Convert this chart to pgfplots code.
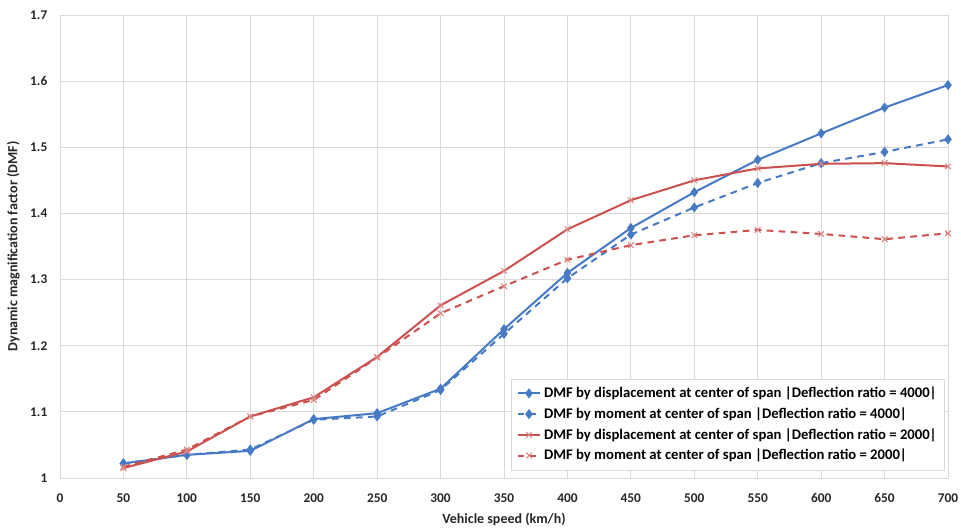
\documentclass[border=0pt]{standalone}
\usepackage{fontspec}
\setmainfont{Carlito}
\usepackage{pgfplots}
\pgfplotsset{compat=1.18}

\definecolor{exblue}{RGB}{70,122,196}
\definecolor{exred}{RGB}{204,80,78}
\definecolor{gridgray}{RGB}{217,217,217}

\begin{document}
\begin{tikzpicture}[x=1pt,y=1pt]
\begin{axis}[
    name=ax,
    scale only axis,
    width=666pt, height=347.25pt,
    xmin=0, xmax=700, ymin=1, ymax=1.7,
    xtick={0,50,...,700},
    ytick={1,1.1,1.2,1.3,1.4,1.5,1.6,1.7},
    yticklabels={1,1.1,1.2,1.3,1.4,1.5,1.6,1.7},
    grid=major,
    major grid style={gridgray, line width=0.7pt},
    axis line style={gridgray, line width=0.7pt},
    tick style={draw=none},
    /pgf/number format/assume math mode=true,
    ticklabel style={font=\bfseries\fontsize{10}{12}\selectfont, text=black!85},
    xticklabel style={yshift=-8pt},
    yticklabel style={xshift=-6pt},
    xlabel={Vehicle speed (km/h)},
    ylabel={Dynamic magnification factor (DMF)},
    label style={font=\bfseries\fontsize{10.5}{12}\selectfont, text=black!85},
    xlabel style={yshift=-1pt},
    ylabel style={yshift=1pt},
    legend style={at={(0.9966,0.017)}, anchor=south east,
        draw=gridgray, fill=white, font=\bfseries\fontsize{11}{13}\selectfont,
        row sep=2pt, inner sep=4pt, cells={anchor=west}},
    legend cell align=left,
    every axis plot/.append style={line width=1.5pt},
]
\addplot[exblue, dash pattern=on 100pt off 0pt, mark=diamond*, mark size=2.6pt, mark options={solid}] coordinates {
 (50,1.022) (100,1.035) (150,1.041) (200,1.089) (250,1.098) (300,1.135) (350,1.225)
 (400,1.310) (450,1.378) (500,1.432) (550,1.481) (600,1.521) (650,1.560) (700,1.594)};
\addlegendentry{DMF by displacement at center of span |Deflection ratio = 4000|}
\addplot[exblue, dash pattern=on 5pt off 4pt, mark=diamond*, mark size=2.6pt, mark options={solid}] coordinates {
 (50,1.022) (100,1.035) (150,1.043) (200,1.088) (250,1.093) (300,1.133) (350,1.218)
 (400,1.302) (450,1.368) (500,1.409) (550,1.446) (600,1.476) (650,1.493) (700,1.512)};
\addlegendentry{DMF by moment at center of span |Deflection ratio = 4000|}
\addplot[exred, mark=x, mark size=3pt, mark options={solid, line width=0.8pt, exred!70}] coordinates {
 (50,1.015) (100,1.040) (150,1.093) (200,1.122) (250,1.183) (300,1.261) (350,1.313)
 (400,1.376) (450,1.420) (500,1.450) (550,1.468) (600,1.475) (650,1.476) (700,1.471)};
\addlegendentry{DMF by displacement at center of span |Deflection ratio = 2000|}
\addplot[exred, dash pattern=on 5pt off 4pt, mark=x, mark size=3pt, mark options={solid, line width=0.8pt, exred!70}] coordinates {
 (50,1.017) (100,1.043) (150,1.093) (200,1.118) (250,1.182) (300,1.249) (350,1.290)
 (400,1.330) (450,1.352) (500,1.367) (550,1.375) (600,1.369) (650,1.361) (700,1.370)};
\addlegendentry{DMF by moment at center of span |Deflection ratio = 2000|}
\end{axis}
\pgfresetboundingbox
\path ([shift={(-45pt,-37.5pt)}]ax.south west) rectangle ([shift={(9.75pt,11.25pt)}]ax.north east);
\end{tikzpicture}
\end{document}
